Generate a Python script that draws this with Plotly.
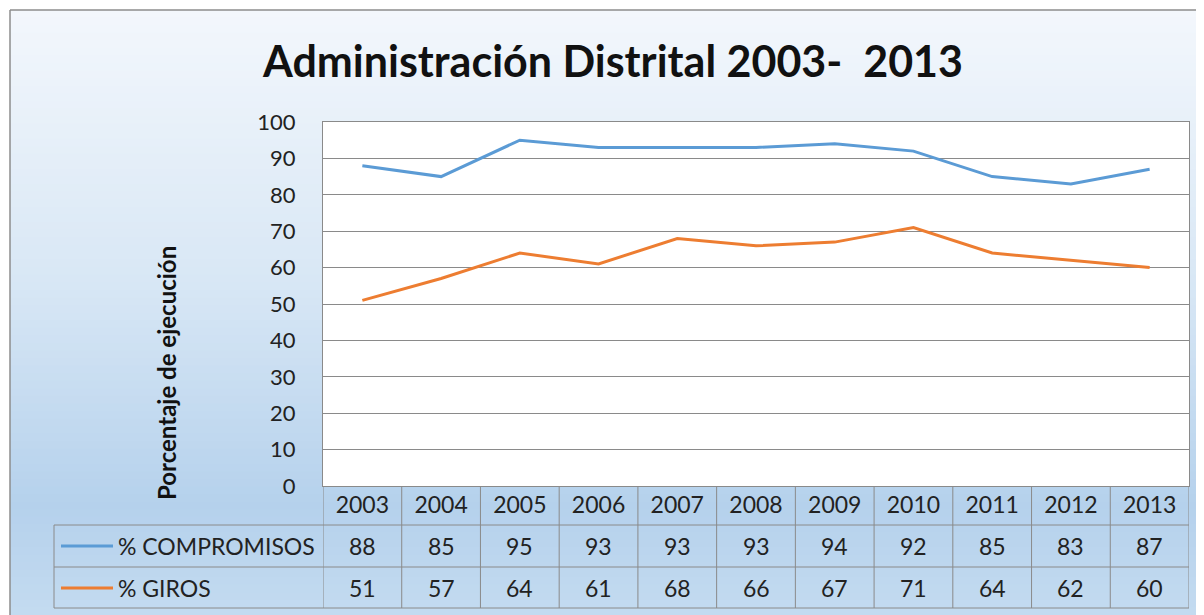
import plotly.graph_objects as go

YEARS = ["2003", "2004", "2005", "2006", "2007", "2008", "2009", "2010", "2011", "2012", "2013"]
COMPROMISOS = [88, 85, 95, 93, 93, 93, 94, 92, 85, 83, 87]
GIROS = [51, 57, 64, 61, 68, 66, 67, 71, 64, 62, 60]

SERIES = [
    ("% COMPROMISOS", COMPROMISOS, "#5b9bd5"),
    ("% GIROS", GIROS, "#ed7d31"),
]

FONT = "Lato"
GRID = "#8a8a8a"
TXT = "#222"

# page body has an 8px margin, so the figure is a bit smaller than the window
OFF = 8
W, H = 1204 - OFF, 615 - OFF
ML, MR, MT, MB = 2, 15, 114, 129
PW = W - ML - MR
PH = H - MT - MB


def px_x(px):
    # reference-screenshot pixel -> paper x
    return (px - OFF - ML) / PW


def px_y(py):
    # reference-screenshot pixel -> paper y
    return (H - MB - (py - OFF)) / PH


fig = go.Figure()
for name, vals, color in SERIES:
    fig.add_trace(go.Scatter(
        x=YEARS, y=vals, name=name, mode="lines",
        line=dict(color=color, width=3),
        showlegend=False,
    ))

shapes = []

# background gradient (pale at the top, blue near the bottom)
stops = [(0.0, (243, 247, 252)), (0.45, (216, 231, 245)), (0.82, (181, 209, 236)), (1.0, (196, 219, 240))]


def grad(t):
    for (t0, c0), (t1, c1) in zip(stops, stops[1:]):
        if t <= t1:
            f = (t - t0) / (t1 - t0)
            return "rgb(%d,%d,%d)" % tuple(round(a + (b - a) * f) for a, b in zip(c0, c1))
    return "rgb(%d,%d,%d)" % stops[-1][1]


n = 80
top, bot = 10, 615
for i in range(n):
    y0 = top + (bot - top) * i / n
    y1 = top + (bot - top) * (i + 1) / n + 1
    shapes.append(dict(type="rect", xref="paper", yref="paper",
                       x0=px_x(10), x1=px_x(1220), y0=px_y(y0), y1=px_y(y1),
                       fillcolor=grad((i + 0.5) / n), line_width=0, layer="below"))
# plot area white
shapes.append(dict(type="rect", xref="paper", yref="paper",
                   x0=px_x(323), x1=1, y0=0, y1=1, fillcolor="white", line_width=0, layer="below"))
# chart frame
shapes.append(dict(type="line", xref="paper", yref="paper", x0=px_x(10), x1=px_x(1220),
                   y0=px_y(10), y1=px_y(10), line=dict(color="#8c8c8c", width=1.5)))
shapes.append(dict(type="line", xref="paper", yref="paper", x0=px_x(10), x1=px_x(10),
                   y0=px_y(10), y1=px_y(625), line=dict(color="#8c8c8c", width=1.5)))

# data table grid
for py in [525, 567, 608]:
    shapes.append(dict(type="line", xref="paper", yref="paper", x0=px_x(54), x1=1,
                       y0=px_y(py), y1=px_y(py), line=dict(color=GRID, width=1)))
shapes.append(dict(type="line", xref="paper", yref="paper", x0=px_x(54), x1=px_x(54),
                   y0=px_y(525), y1=px_y(608), line=dict(color=GRID, width=1)))
for i in range(len(YEARS) + 1):
    shapes.append(dict(type="line", xref="x", yref="paper", x0=i - 0.5, x1=i - 0.5,
                       y0=0, y1=px_y(608), line=dict(color=GRID, width=1)))

annotations = []
for (name, vals, color), py in zip(SERIES, [546, 588]):
    shapes.append(dict(type="line", xref="paper", yref="paper", x0=px_x(61), x1=px_x(113),
                       y0=px_y(py), y1=px_y(py), line=dict(color=color, width=3)))
    annotations.append(dict(xref="paper", yref="paper", x=px_x(116), y=px_y(py),
                            text=name, showarrow=False, xanchor="left", yanchor="middle",
                            font=dict(family=FONT, size=23, color=TXT)))
    for i, v in enumerate(vals):
        annotations.append(dict(xref="x", yref="paper", x=i, y=px_y(py), text=str(v),
                                showarrow=False, xanchor="center", yanchor="middle",
                                font=dict(family=FONT, size=23, color=TXT)))

annotations.append(dict(xref="paper", yref="paper", x=px_x(166), y=px_y(373),
                        text="<b>Porcentaje de ejecución</b>", textangle=-90, showarrow=False,
                        xanchor="center", yanchor="middle",
                        font=dict(family=FONT, size=24, color="#111")))

fig.update_layout(
    width=W, height=H,
    margin=dict(l=ML, r=MR, t=MT, b=MB),
    paper_bgcolor="white", plot_bgcolor="rgba(0,0,0,0)",
    title=dict(text="<b>Administración Distrital 2003-  2013</b>", xref="paper", x=px_x(613),
               xanchor="center", y=1 - (62 - OFF) / H, yanchor="middle",
               font=dict(family=FONT, size=43, color="#111")),
    shapes=shapes, annotations=annotations,
    font=dict(family=FONT),
)
fig.update_xaxes(type="category", domain=[px_x(323), 1], range=[-0.5, 10.5], showgrid=False,
                 showline=True, linecolor=GRID, mirror=True,
                 tickfont=dict(family=FONT, size=23, color=TXT), ticks="", ticklabelstandoff=-2)
fig.update_yaxes(range=[0, 100], dtick=10, showgrid=True, gridcolor=GRID, gridwidth=1,
                 showline=True, linecolor=GRID, mirror=True, zeroline=False,
                 tickfont=dict(family=FONT, size=22, color=TXT), ticks="", ticklabelstandoff=22)

fig.write_html("out.html")
